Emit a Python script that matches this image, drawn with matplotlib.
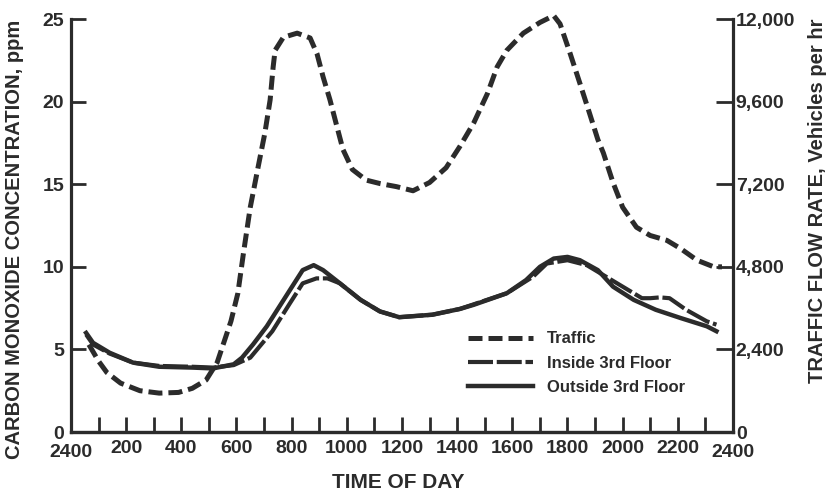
import matplotlib.pyplot as plt
import numpy as np

plt.rcParams['font.family'] = ['Liberation Sans', 'DejaVu Sans']
plt.rcParams['font.weight'] = 'bold'

INK = '#2b2b2b'

# traffic flow, vehicles per hour (right axis)
traffic_hours = [0.65, 1.0, 1.3, 1.8, 2.5, 3.2, 3.9, 4.4, 4.9, 5.3, 5.5, 5.8, 6.05,
                 6.25, 6.5, 6.78, 7.03, 7.22, 7.33, 7.4, 7.7, 8.2, 8.67, 8.92, 9.14,
                 9.39, 9.64, 9.86, 10.2, 10.7, 11.2, 11.8, 12.4, 13.0, 13.6, 14.1,
                 14.6, 15.1, 15.45, 15.8, 16.4, 17.0, 17.5, 17.73, 18.1, 18.45, 18.8,
                 19.1, 19.3, 19.65, 20.0, 20.5, 21.0, 21.6, 22.1, 22.7, 23.3, 23.6]
traffic_vph = [2540, 2060, 1730, 1420, 1200, 1130, 1150, 1270, 1510, 2020, 2500, 3220, 4030,
               5180, 6530, 7680, 8690, 9650, 10610, 11090, 11470, 11590, 11450, 10990, 10320,
               9650, 8880, 8210, 7630, 7320, 7220, 7130, 7010, 7250, 7680, 8300,
               8980, 9840, 10610, 11090, 11590, 11900, 12100, 11860, 10990, 10130, 9260,
               8500, 8110, 7250, 6530, 5950, 5710, 5570, 5330, 4990, 4800, 4800]

# carbon monoxide, ppm (left axis)
inside_hours = [0.55, 0.8, 1.4, 2.25, 3.2, 4.4, 5.15, 5.9, 6.5, 7.3, 7.94, 8.4, 8.9,
                9.3, 9.75, 10.5, 11.2, 11.9, 13.1, 14.1, 15.8, 16.75, 17.25, 18.0,
                18.7, 19.4, 20.2, 20.7, 21.0, 21.35, 21.7, 22.3, 23.05, 23.4]
inside_ppm = [5.9, 5.3, 4.75, 4.2, 4.0, 3.95, 3.9, 4.05, 4.5, 6.1, 7.8, 9.0, 9.3,
              9.3, 9.0, 8.0, 7.3, 6.95, 7.1, 7.45, 8.4, 9.4, 10.2, 10.4,
              10.1, 9.4, 8.6, 8.1, 8.1, 8.15, 8.1, 7.4, 6.7, 6.5]

outside_hours = [0.55, 0.8, 1.4, 2.25, 3.2, 4.4, 5.15, 5.9, 6.2, 6.6, 7.1, 7.94, 8.4,
                 8.8, 9.14, 9.75, 10.5, 11.2, 11.9, 13.1, 14.1, 14.6, 15.8, 16.5, 17.0,
                 17.5, 18.0, 18.45, 19.1, 19.65, 20.4, 21.2, 22.1, 23.05, 23.4]
outside_ppm = [6.0, 5.4, 4.8, 4.2, 3.95, 3.9, 3.85, 4.1, 4.5, 5.3, 6.4, 8.6, 9.8,
               10.1, 9.8, 9.0, 8.0, 7.3, 6.95, 7.1, 7.45, 7.7, 8.4, 9.2, 10.0,
               10.5, 10.6, 10.4, 9.8, 8.8, 8.0, 7.4, 6.9, 6.4, 6.1]

hour_ticks = np.arange(0, 25)
hour_labels = ['2400' if h in (0, 24) else (str(h * 100) if h % 2 == 0 else '') for h in hour_ticks]
ppm_ticks = [0, 5, 10, 15, 20, 25]
vph_ticks = [0, 2400, 4800, 7200, 9600, 12000]
vph_labels = ['0', '2,400', '4,800', '7,200', '9,600', '12,000']

fig = plt.figure(figsize=(8.29, 4.94), dpi=100)
ax = fig.add_axes([0.0856, 0.1255, 0.7986, 0.856])
ax2 = ax.twinx()

ppm_top = 25.6
ax.set_xlim(0, 24)
ax.set_ylim(0, ppm_top)
ax2.set_ylim(0, ppm_top * 480)

l_in, = ax.plot(inside_hours, inside_ppm, color=INK, lw=3, dashes=(6, 0.9),
                label='Inside 3rd Floor')
l_out, = ax.plot(outside_hours, outside_ppm, color=INK, lw=3.2, label='Outside 3rd Floor')
l_tr, = ax2.plot(traffic_hours, traffic_vph, color=INK, lw=3.6, dashes=(2.8, 1.2),
                 label='Traffic')

for a in (ax, ax2):
    a.spines['top'].set_visible(False)
    for s in ('left', 'right', 'bottom'):
        a.spines[s].set_linewidth(2.3)
        a.spines[s].set_color(INK)
ax.spines['left'].set_bounds(0, 25)
ax2.spines['right'].set_bounds(0, 12000)
ax2.spines['left'].set_visible(False)
ax.spines['right'].set_visible(False)

ax.set_xticks(hour_ticks[1:-1])
ax.set_xticklabels(hour_labels[1:-1])
ax.tick_params(axis='x', direction='in', length=11, width=2, color=INK, pad=6,
               labelsize=14, labelcolor=INK)
ax.set_yticks(ppm_ticks)
ax.tick_params(axis='y', direction='in', length=11, width=2, color=INK, pad=5,
               labelsize=14, labelcolor=INK)
ax2.set_yticks(vph_ticks)
ax2.set_yticklabels(vph_labels)
ax2.tick_params(axis='y', direction='in', length=12, width=2, color=INK, pad=2,
                labelsize=14, labelcolor=INK)

# end labels of the time axis sit at the spine ends
for xa in (0, 1):
    ax.text(xa, -0.028, '2400', transform=ax.transAxes, ha='center', va='top',
            fontsize=14, color=INK)

fig.text(0.017, 0.516, 'CARBON MONOXIDE CONCENTRATION, ppm', rotation=90,
         ha='center', va='center', fontsize=14.5, color=INK)
fig.text(0.986, 0.962, 'TRAFFIC FLOW RATE, Vehicles per hr', rotation=90,
         ha='center', va='top', fontsize=14.5, color=INK)
fig.text(0.48, 0.024, 'TIME OF DAY', ha='center', va='center', fontsize=15, color=INK)

ax2.legend(handles=[l_tr, l_in, l_out], loc='upper left', bbox_to_anchor=(0.6, 0.238),
           frameon=False, fontsize=12, handlelength=3.9, handletextpad=0.8,
           labelspacing=0.55, borderpad=0, borderaxespad=0, labelcolor=INK)

fig.savefig('out.png', dpi=100)
